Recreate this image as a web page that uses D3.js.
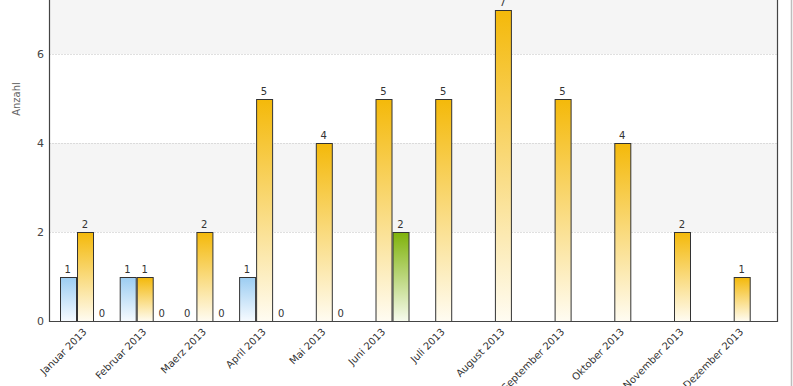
<!DOCTYPE html>
<html>
<head>
<meta charset="utf-8">
<script src="https://cdn.jsdelivr.net/npm/d3@7"></script>
<style>
  body { margin: 0; background: #fff; }
  text { font-family: "DejaVu Sans", Verdana, sans-serif; }
</style>
</head>
<body>
<svg id="chart" width="793" height="386"></svg>
<script>
var months = ["Januar 2013", "Februar 2013", "Maerz 2013", "April 2013", "Mai 2013", "Juni 2013",
  "Juli 2013", "August 2013", "September 2013", "Oktober 2013", "November 2013", "Dezember 2013"];
var seriesNames = ["blau", "gelb", "gruen"];
// null = no value for that month
var blauValues  = [1, 1, 0, 1, null, null, null, null, null, null, null, null];
var gelbValues  = [2, 1, 2, 5, 4, 5, 5, 7, 5, 4, 2, 1];
var gruenValues = [0, 0, 0, 0, 0, 2, null, null, null, null, null, null];
var yTicks = [0, 2, 4, 6];

var svg = d3.select("#chart"),
    width = +svg.attr("width"),
    height = +svg.attr("height");

var left = 49.5, right = 777, bottom = 321;

var x0 = d3.scaleBand().domain(months).range([left, right])
    .paddingInner(0.166).paddingOuter(0.176);
var x1 = d3.scaleBand().domain(seriesNames).range([0, x0.bandwidth()]).paddingInner(0.09);
var y = d3.scaleLinear().domain([0, 8]).range([bottom, bottom - 8 * 44.5]);

var colors = {
  blau:  ["#9ccdf2", "#f7fbff"],
  gelb:  ["#f4b90a", "#fffcf2"],
  gruen: ["#7fb20a", "#f7fbee"]
};

var defs = svg.append("defs");
seriesNames.forEach(function(s) {
  var g = defs.append("linearGradient").attr("id", "grad-" + s)
    .attr("x1", 0).attr("y1", 0).attr("x2", 0).attr("y2", 1);
  g.append("stop").attr("offset", "0%").attr("stop-color", colors[s][0]);
  g.append("stop").attr("offset", "100%").attr("stop-color", colors[s][1]);
});

// shaded bands 2-4 and 6-8
[[2, 4], [6, 8]].forEach(function(b) {
  svg.append("rect")
    .attr("x", left).attr("width", right - left)
    .attr("y", y(b[1])).attr("height", y(b[0]) - y(b[1]))
    .attr("fill", "#f5f5f5");
});

// dotted grid
svg.append("g").selectAll("line")
  .data(yTicks.filter(function(d) { return d > 0; }))
  .enter().append("line")
  .attr("x1", left).attr("x2", right)
  .attr("y1", function(d) { return Math.round(y(d)) + 0.5; })
  .attr("y2", function(d) { return Math.round(y(d)) + 0.5; })
  .attr("stroke", "#c0c0c0")
  .attr("stroke-dasharray", "1,2");

// y labels
svg.append("g").selectAll("text")
  .data(yTicks).enter().append("text")
  .attr("x", 44).attr("y", function(d) { return y(d) + 4; })
  .attr("text-anchor", "end")
  .attr("font-size", "11px")
  .attr("fill", "#444")
  .text(function(d) { return d; });

svg.append("text")
  .attr("transform", "translate(20,99) rotate(-90)")
  .attr("text-anchor", "middle")
  .attr("font-size", "10px")
  .attr("fill", "#666")
  .text("Anzahl");

// bars
var data = months.map(function(m, i) {
  return { month: m, values: [
    { s: "blau", v: blauValues[i] },
    { s: "gelb", v: gelbValues[i] },
    { s: "gruen", v: gruenValues[i] }
  ].filter(function(d) { return d.v !== null; }) };
});

var groups = svg.append("g").selectAll("g")
  .data(data).enter().append("g")
  .attr("transform", function(d) { return "translate(" + x0(d.month) + ",0)"; });

groups.selectAll("rect")
  .data(function(d) { return d.values.filter(function(v) { return v.v > 0; }); })
  .enter().append("rect")
  .attr("x", function(d) { return Math.round(x1(d.s)) + 0.5; })
  .attr("width", Math.round(x1.bandwidth()))
  .attr("y", function(d) { return Math.round(y(d.v)) + 0.5; })
  .attr("height", function(d) { return Math.round(bottom) - Math.round(y(d.v)); })
  .attr("fill", function(d) { return "url(#grad-" + d.s + ")"; })
  .attr("stroke", "#333")
  .attr("stroke-width", 1);

groups.selectAll("text")
  .data(function(d) { return d.values; })
  .enter().append("text")
  .attr("x", function(d) { return x1(d.s) + x1.bandwidth() / 2; })
  .attr("y", function(d) { return y(d.v) - 4; })
  .attr("text-anchor", "middle")
  .attr("font-size", "10px")
  .attr("fill", "#333")
  .text(function(d) { return d.v; });

// frame
svg.append("path")
  .attr("d", "M" + left + ",0V" + (bottom + 0.5) + "H" + (right + 0.5) + "V0")
  .attr("fill", "none")
  .attr("stroke", "#444")
  .attr("stroke-width", 1.2);

// x labels
svg.append("g").selectAll("text")
  .data(months).enter().append("text")
  .attr("transform", function(d) {
    return "translate(" + (x0(d) + x0.bandwidth() / 2) + "," + (bottom + 9) + ") rotate(-45)";
  })
  .attr("text-anchor", "end")
  .attr("dy", "0.35em")
  .attr("font-size", "10px")
  .attr("fill", "#333")
  .text(function(d) { return d; });

// outer container border
svg.append("line")
  .attr("x1", 791.5).attr("x2", 791.5).attr("y1", 0).attr("y2", height)
  .attr("stroke", "#bdbdbd").attr("stroke-width", 1.5);
</script>
</body>
</html>
